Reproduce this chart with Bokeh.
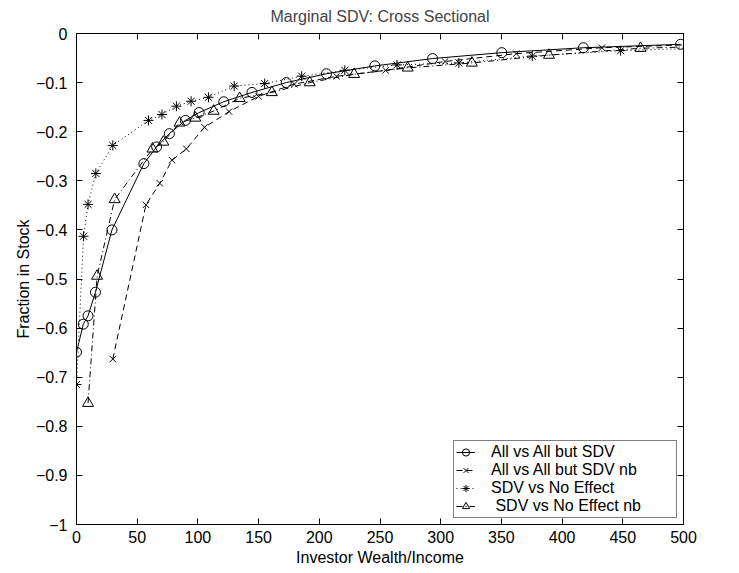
from bokeh.plotting import figure
from bokeh.models import (Range1d, LinearAxis, FixedTicker, CustomJSTickFormatter,
                          Legend, LegendItem)
from bokeh.embed import file_html
from bokeh.resources import INLINE

# ---- data ----
labels = ["All vs All but SDV", "All vs All but SDV nb", "SDV vs No Effect", " SDV vs No Effect nb"]

all_x = [0, 5.6, 9.5, 15.6, 29.2, 55.5, 66.0, 76.5, 89.7, 101.0, 121.3, 144.5, 172.8,
         205.9, 245.8, 293.3, 350.3, 417.5, 497.6]
all_y = [-0.649, -0.592, -0.575, -0.527, -0.400, -0.265, -0.231, -0.204, -0.177, -0.161,
         -0.139, -0.120, -0.100, -0.082, -0.066, -0.051, -0.039, -0.029, -0.022]

allnb_x = [29.9, 57.2, 68.6, 78.7, 90.5, 105.5, 125.7, 150.0, 179.5, 214.2, 254.6, 303.6,
           362.2, 432.8, 515.0]
allnb_y = [-0.663, -0.349, -0.305, -0.258, -0.235, -0.191, -0.159, -0.128, -0.103, -0.087,
           -0.075, -0.057, -0.041, -0.029, -0.022]

sdv_x = [0, 5.8, 9.5, 15.9, 29.9, 59.3, 70.4, 82.3, 94.4, 108.7, 129.9, 155.0, 185.5,
         221.0, 264.0, 315.0, 375.4, 448.2, 535.0]
sdv_y = [-0.715, -0.413, -0.348, -0.285, -0.228, -0.177, -0.165, -0.148, -0.138, -0.130,
         -0.107, -0.102, -0.087, -0.075, -0.064, -0.060, -0.046, -0.035, -0.028]

sdvnb_x = [9.5, 17.0, 31.4, 62.6, 71.5, 84.9, 97.9, 113.0, 134.4, 160.9, 192.1, 228.7,
           272.8, 325.7, 389.2, 464.6, 555.0]
sdvnb_y = [-0.753, -0.494, -0.338, -0.235, -0.221, -0.182, -0.172, -0.158, -0.132, -0.120,
           -0.100, -0.083, -0.070, -0.060, -0.044, -0.030, -0.024]

x_ticks = [0, 50, 100, 150, 200, 250, 300, 350, 400, 450, 500]
x_tick_labels = ["0", "50", "100", "150", "200", "250", "300", "350", "400", "450", "500"]
y_ticks = [-1, -0.9, -0.8, -0.7, -0.6, -0.5, -0.4, -0.3, -0.2, -0.1, 0]
y_tick_labels = ["\u22121", "\u22120.9", "\u22120.8", "\u22120.7", "\u22120.6", "\u22120.5",
                 "\u22120.4", "\u22120.3", "\u22120.2", "\u22120.1", "0"]

FONT = "Liberation Sans"
FS = "16px"

p = figure(frame_width=607, frame_height=491, output_backend="svg", toolbar_location=None,
           x_range=Range1d(0, 500), y_range=Range1d(-1, 0),
           min_border_left=76, min_border_right=40, min_border_top=33, min_border_bottom=30,
           title="Marginal SDV: Cross Sectional")

p.title.text_font = FONT
p.title.text_font_size = FS
p.title.text_font_style = "normal"
p.title.align = "center"
p.title.vertical_align = "top"
p.title.standoff = 13

p.xgrid.visible = False
p.ygrid.visible = False
p.outline_line_color = "black"
p.outline_line_width = 1
p.background_fill_color = "white"
p.border_fill_color = "white"

label_code = """
let best = -1; let bd = 1e9;
for (let i = 0; i < tvals.length; i++) {
  const d = Math.abs(tvals[i] - tick);
  if (d < bd) { bd = d; best = i; }
}
return (best >= 0 && bd < 1e-6) ? tlabels[best] : "";
"""

p.xaxis.ticker = FixedTicker(ticks=x_ticks)
p.xaxis.formatter = CustomJSTickFormatter(args=dict(tvals=x_ticks, tlabels=x_tick_labels), code=label_code)
p.yaxis.ticker = FixedTicker(ticks=y_ticks)
p.yaxis.formatter = CustomJSTickFormatter(args=dict(tvals=y_ticks, tlabels=y_tick_labels), code=label_code)

for ax in (p.xaxis[0], p.yaxis[0]):
    ax.major_tick_in = 6
    ax.major_tick_out = 0
    ax.minor_tick_line_color = None
    ax.axis_line_color = "black"
    ax.major_tick_line_color = "black"
    ax.major_label_text_font = FONT
    ax.major_label_text_font_size = FS
    ax.major_label_text_color = "black"
    ax.axis_label_text_font = FONT
    ax.axis_label_text_font_size = FS
    ax.axis_label_text_font_style = "normal"
    ax.axis_label_text_color = "black"

p.xaxis.major_label_standoff = 6
p.xaxis.axis_label_standoff = 3
p.yaxis.major_label_standoff = 9
p.yaxis.axis_label_standoff = 1

p.xaxis.axis_label = "Investor Wealth/Income"
p.yaxis.axis_label = "Fraction in Stock"

empty = CustomJSTickFormatter(code="return '';")
ra = LinearAxis(ticker=FixedTicker(ticks=y_ticks), formatter=empty, major_tick_in=6,
                major_tick_out=0, minor_tick_line_color=None, major_label_standoff=0,
                major_label_text_font_size="0px")
ta = LinearAxis(ticker=FixedTicker(ticks=x_ticks), formatter=empty, major_tick_in=6,
                major_tick_out=0, minor_tick_line_color=None, major_label_standoff=0,
                major_label_text_font_size="0px")
p.add_layout(ra, "right")
p.add_layout(ta, "above")

l1 = p.line(all_x, all_y, line_color="black", line_width=1)
m1 = p.scatter(all_x, all_y, marker="circle", size=10, fill_color=None, line_color="black", line_width=1)

l2 = p.line(allnb_x, allnb_y, line_color="black", line_width=1, line_dash="6 4")
m2 = p.scatter(allnb_x, allnb_y, marker="x", size=9, line_color="black", line_width=1)

l3 = p.line(sdv_x, sdv_y, line_color="black", line_width=1, line_dash="1 3")
m3 = p.scatter(sdv_x, sdv_y, marker="asterisk", size=10, line_color="black", line_width=1)

l4 = p.line(sdvnb_x, sdvnb_y, line_color="black", line_width=1, line_dash="6 3 1 3")
m4 = p.scatter(sdvnb_x, sdvnb_y, marker="triangle", size=11, fill_color=None, line_color="black", line_width=1)

legend = Legend(items=[LegendItem(label=labels[0], renderers=[l1, m1]),
                       LegendItem(label=labels[1], renderers=[l2, m2]),
                       LegendItem(label=labels[2], renderers=[l3, m3]),
                       LegendItem(label=labels[3], renderers=[l4, m4])],
                location="bottom_right", margin=6, padding=2, spacing=0,
                label_height=18, glyph_height=18, glyph_width=19, label_standoff=16,
                label_width=183, border_line_color="black", border_line_width=1,
                background_fill_color="white", background_fill_alpha=1,
                label_text_font=FONT, label_text_font_size=FS, label_text_color="black")
p.add_layout(legend)

open("out.html", "w").write(file_html(p, INLINE))
